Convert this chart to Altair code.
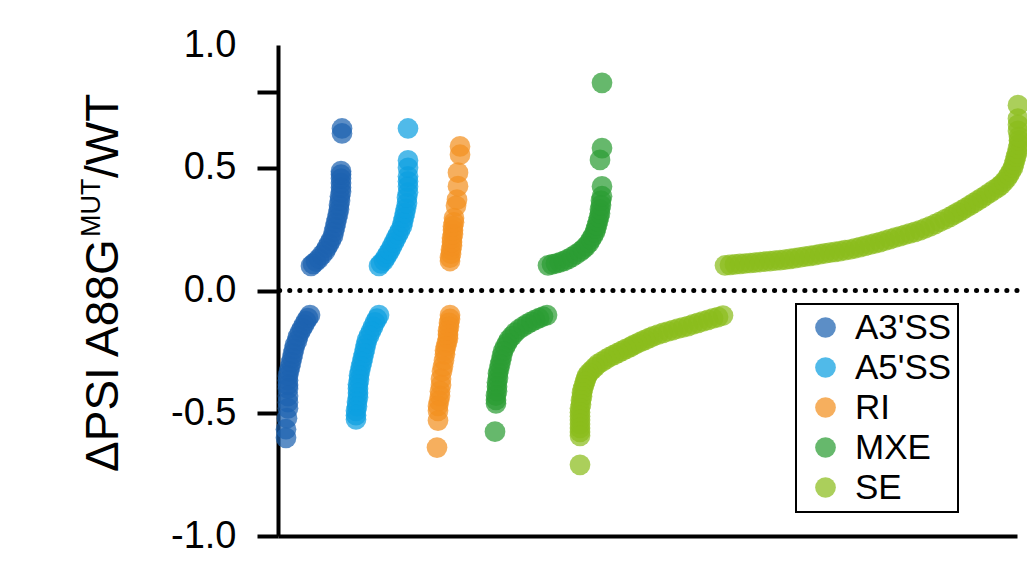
import altair as alt
import pandas as pd

CATEGORIES = ["A3'SS", "A5'SS", "RI", "MXE", "SE"]
COLORS = ["#1d63b0", "#0c9fe0", "#f39020", "#2b9d33", "#8bbd1c"]

# (rank position, ΔPSI), per event type
A3SS = [(33, .100), (35, .108), (38, .118), (41, .130), (44, .145), (47, .160), (49, .175),
        (51, .190), (53, .205), (55, .222), (56, .240), (57, .258), (58, .276), (59, .294),
        (60, .312), (61, .330), (61, .348), (62, .366), (62, .384), (63, .402), (63, .420),
        (63, .438), (63, .456), (63, .472), (63, .486), (64, .640), (64, .660),
        (32, -.100), (30, -.112), (28, -.125), (26, -.140), (24, -.155), (22, -.170),
        (20, -.188), (19, -.205), (17, -.222), (16, -.240), (15, -.258), (14, -.276),
        (13, -.294), (12, -.312), (11, -.330), (10, -.348), (10, -.366), (10, -.385),
        (10, -.400), (10, -.430), (10, -.455), (10, -.480), (9, -.520), (8, -.565), (8, -.600)]

A5SS = [(101, .100), (103, .110), (106, .122), (108, .136), (110, .150), (112, .164),
        (114, .180), (116, .196), (118, .212), (120, .228), (122, .244), (124, .262),
        (125, .280), (126, .298), (127, .316), (128, .334), (129, .356), (129, .378),
        (130, .400), (130, .424), (130, .445), (130, .465), (130, .500), (130, .530), (130, .660),
        (101, -.100), (99, -.115), (97, -.130), (95, -.148), (93, -.166), (91, -.184),
        (89, -.202), (88, -.220), (87, -.238), (86, -.256), (85, -.274), (84, -.292),
        (83, -.310), (82, -.328), (81, -.346), (81, -.364), (80, -.382), (80, -.400),
        (80, -.418), (80, -.436), (79, -.454), (79, -.472), (78, -.490), (78, -.508), (78, -.525)]

RI = [(172, .120), (172, .134), (173, .150), (173, .166), (174, .182), (174, .198),
      (174, .214), (175, .230), (175, .246), (175, .262), (176, .278), (176, .295),
      (178, .345), (179, .370), (180, .425), (180, .480), (182, .553), (182, .587),
      (172, -.100), (172, -.116), (171, -.132), (171, -.148), (170, -.164), (170, -.180),
      (170, -.196), (169, -.212), (168, -.228), (167, -.244), (167, -.260), (166, -.285),
      (165, -.310), (164, -.330), (163, -.360), (163, -.385), (162, -.410), (162, -.430),
      (161, -.450), (160, -.470), (160, -.490), (160, -.530), (159, -.640)]

MXE = [(270, .102), (274, .106), (278, .110), (282, .115), (286, .121), (290, .128),
       (294, .137), (298, .147), (302, .158), (305, .168), (308, .180), (311, .194),
       (313, .208), (315, .222), (317, .238), (318, .252), (319, .266), (320, .282),
       (321, .298), (322, .314), (322, .330), (323, .348), (323, .366), (324, .384),
       (324, .424), (322, .532), (324, .580), (324, .846),
       (269, -.100), (265, -.106), (261, -.113), (257, -.120), (253, -.128), (249, -.137),
       (245, -.147), (241, -.158), (237, -.172), (234, -.186), (231, -.200), (229, -.215),
       (227, -.230), (225, -.248), (224, -.266), (223, -.284), (222, -.302), (221, -.320),
       (220, -.338), (220, -.356), (219, -.374), (219, -.392), (219, -.410), (218, -.428),
       (218, -.446), (218, -.460), (217, -.575)]

SE = [(447, .102), (452, .104), (457, .106), (462, .108), (467, .110), (472, .112),
      (477, .114), (482, .116), (487, .118), (492, .120), (497, .122), (502, .124),
      (507, .126), (512, .129), (517, .132), (522, .135), (527, .138), (532, .141),
      (537, .144), (542, .148), (547, .151), (552, .154), (557, .157), (562, .160),
      (567, .164), (572, .167), (577, .172), (582, .177), (587, .182), (592, .187),
      (597, .192), (602, .197), (607, .203), (612, .209), (617, .215), (622, .221),
      (627, .227), (632, .233), (637, .239), (642, .245), (647, .253), (652, .261),
      (657, .270), (662, .280), (667, .290), (672, .300), (676, .309), (680, .318),
      (684, .327), (688, .337), (692, .347), (696, .357), (700, .367), (704, .377),
      (708, .388), (712, .399), (716, .410), (720, .420), (723, .430), (726, .443),
      (729, .458), (731, .471), (733, .485), (735, .500), (736, .515), (737, .530),
      (738, .545), (739, .560), (740, .578), (741, .596), (741, .612), (741, .626),
      (740, .650), (740, .675), (740, .700), (740, .755),
      (445, -.102), (440, -.108), (435, -.114), (430, -.120), (425, -.126), (420, -.132),
      (415, -.138), (410, -.145), (405, -.150), (400, -.155), (395, -.161), (390, -.167),
      (385, -.173), (380, -.180), (375, -.187), (371, -.194), (367, -.201), (363, -.208),
      (359, -.216), (355, -.224), (352, -.231), (348, -.238), (344, -.246), (340, -.254),
      (336, -.262), (332, -.270), (328, -.280), (324, -.290), (320, -.300), (317, -.312),
      (314, -.324), (311, -.336), (309, -.348), (308, -.360), (307, -.372), (306, -.386),
      (305, -.400), (304, -.416), (304, -.432), (303, -.448), (303, -.464), (302, -.480),
      (302, -.496), (302, -.512), (302, -.528), (302, -.544), (302, -.560), (302, -.576),
      (302, -.592), (302, -.710)]

Y_TICKS = [-1, -0.5, 0, 0.5, 0.81, 1]
TITLE_MAIN = "ΔPSI A88G"
TITLE_SUP = "MUT"
TITLE_END = "/WT"

rows = []
for cat, pts in zip(CATEGORIES, [A3SS, A5SS, RI, MXE, SE]):
    for r, v in pts:
        rows.append({"event": cat, "rank": r, "dpsi": v})
df = pd.DataFrame(rows)

FONT = "Liberation Sans"

x_scale = alt.Scale(domain=[0, 739], nice=False, zero=False)
y_scale = alt.Scale(domain=[-1, 1], nice=False, zero=False)

x_axis = alt.Axis(title=None, labels=False, ticks=False, grid=False,
                  domainColor="black", domainWidth=4)
y_axis = alt.Axis(
    title=None, values=Y_TICKS, grid=False,
    labelExpr="datum.value == 0.81 ? '' : (datum.value < 0 ? '-' + format(-datum.value, '.1f') : format(datum.value, '.1f'))",
    labelFont=FONT, labelFontSize=38, labelColor="black", labelPadding=21,
    labelFlush=False, labelOverlap=False,
    tickSize=21, tickWidth=4,
    tickColor={"condition": {"test": "datum.value == 1", "value": "transparent"}, "value": "black"},
    domainColor="black", domainWidth=4,
)

y_enc = alt.Y("dpsi:Q", scale=y_scale, axis=y_axis)

zero = alt.Chart(pd.DataFrame({"dpsi": [0.0]})).mark_rule(
    color="black", strokeWidth=5, strokeDash=[0.1, 10], strokeCap="round"
).encode(y=y_enc)

points = alt.Chart(df).mark_circle(size=430, opacity=0.72).encode(
    x=alt.X("rank:Q", scale=x_scale, axis=x_axis),
    y=y_enc,
    color=alt.Color(
        "event:N",
        scale=alt.Scale(domain=CATEGORIES, range=COLORS),
        legend=alt.Legend(
            title=None, orient="none", legendX=518, legendY=259,
            symbolType="circle", symbolSize=430, symbolOpacity=0.72, symbolStrokeWidth=0,
            labelFont=FONT, labelFontSize=35, labelColor="black", labelOffset=12,
            padding=6, rowPadding=4, symbolOffset=6, strokeColor="black",
        ),
    ),
)

def title_part(text, size, xpos, ypos):
    return alt.Chart(pd.DataFrame({"t": [text]})).mark_text(
        angle=270, align="left", baseline="alphabetic", font=FONT, fontSize=size, color="black"
    ).encode(text="t:N", x=alt.value(xpos), y=alt.value(ypos))

t1 = title_part(TITLE_MAIN, 46, -160, 427)
t2 = title_part(TITLE_SUP, 27, -178, 192)
t3 = title_part(TITLE_END, 46, -160, 133)

chart = alt.layer(zero, points, t1, t2, t3).properties(
    width=739, height=491,
    autosize=alt.AutoSizeParams(type="none"),
    padding={"left": 270, "top": 37, "right": 10, "bottom": 20},
).configure_view(strokeWidth=0).configure_legend(strokeWidth=2)

chart.save("out.html", embed_options={"renderer": "svg", "actions": False})
